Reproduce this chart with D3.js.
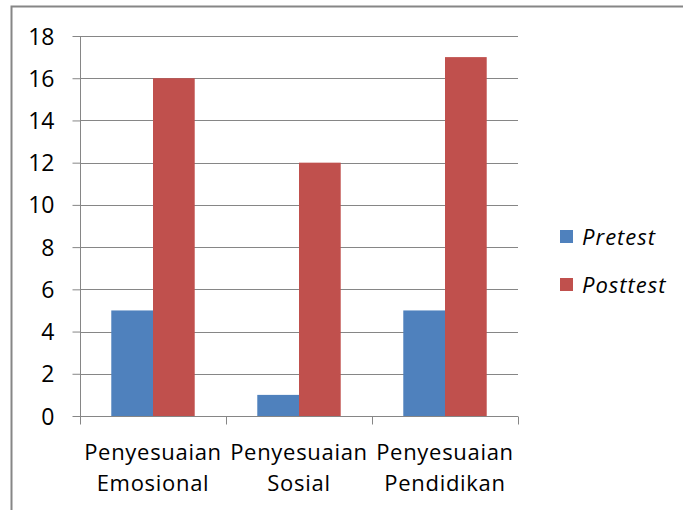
<!DOCTYPE html>
<html>
<head>
<meta charset="utf-8">
<script src="https://cdn.jsdelivr.net/npm/d3@7"></script>
<style>
  body { margin: 0; background: #fff; }
  text { font-family: "Open Sans", "Noto Sans", sans-serif; fill: #000; }
</style>
</head>
<body>
<script>
const categories = [["Penyesuaian", "Emosional"], ["Penyesuaian", "Sosial"], ["Penyesuaian", "Pendidikan"]];
const seriesNames = ["Pretest", "Posttest"];
const pretest = [5, 1, 5];
const posttest = [16, 12, 17];
const yTicks = [0, 2, 4, 6, 8, 10, 12, 14, 16, 18];
const colors = ["#4F81BD", "#C0504D"];

const W = 683, H = 510;
const svg = d3.select("body").append("svg").attr("width", W).attr("height", H);

// chart border
svg.append("rect")
    .attr("x", 11.5).attr("y", 6.5)
    .attr("width", 700).attr("height", 520)
    .attr("fill", "none").attr("stroke", "#868686").attr("stroke-width", 2);

const plotLeft = 80, plotRight = 518, plotTop = 36, plotBottom = 416;

const x = d3.scaleBand().domain(d3.range(categories.length)).range([plotLeft, plotRight]).paddingInner(0).paddingOuter(0);
const xs = d3.scaleBand().domain(seriesNames).range([0, x.bandwidth()]).paddingInner(0).paddingOuter(0.75);
const y = d3.scaleLinear().domain([0, 18]).range([plotBottom, plotTop]);

// gridlines
svg.append("g").selectAll("line").data(yTicks.slice(1)).enter().append("line")
    .attr("x1", plotLeft).attr("x2", plotRight)
    .attr("y1", d => Math.round(y(d)) + 0.5).attr("y2", d => Math.round(y(d)) + 0.5)
    .attr("stroke", "#868686").attr("stroke-width", 1);

// bars
const data = categories.map((c, i) => ({i, vals: [pretest[i], posttest[i]]}));
const groups = svg.append("g").selectAll("g").data(data).enter().append("g")
    .attr("transform", d => `translate(${x(d.i)},0)`);
groups.selectAll("rect").data(d => d.vals.map((v, k) => ({v, k}))).enter().append("rect")
    .attr("x", d => xs(seriesNames[d.k]))
    .attr("width", xs.bandwidth())
    .attr("y", d => y(d.v))
    .attr("height", d => y(0) - y(d.v))
    .attr("fill", d => colors[d.k]);

// y axis
const yAxis = svg.append("g").attr("transform", `translate(${plotLeft + 0.5},0)`)
    .call(d3.axisLeft(y).tickValues(yTicks).tickSize(8).tickPadding(18));
yAxis.select(".domain").attr("stroke", "#868686").attr("d", `M0,${plotTop}V${plotBottom + 8}`);
yAxis.selectAll(".tick line").attr("stroke", "#868686");
yAxis.selectAll(".tick text").style("font-size", "23px").attr("fill", "#000")
    .attr("dy", "0.35em");

// x axis
const xAxis = svg.append("g").attr("transform", `translate(0,${plotBottom + 0.5})`);
xAxis.append("line").attr("x1", plotLeft).attr("x2", plotRight).attr("stroke", "#868686");
xAxis.selectAll("line.tk").data(d3.range(categories.length + 1)).enter().append("line")
    .attr("class", "tk")
    .attr("x1", d => Math.round(d < categories.length ? x(d) : plotRight) + 0.5)
    .attr("x2", d => Math.round(d < categories.length ? x(d) : plotRight) + 0.5)
    .attr("y1", 0).attr("y2", 8).attr("stroke", "#868686");
const lbl = xAxis.selectAll("text").data(categories).enter().append("text")
    .attr("x", (d, i) => x(i) + x.bandwidth() / 2)
    .attr("text-anchor", "middle")
    .style("font-size", "22px")
    .style("letter-spacing", "0.7px");
lbl.append("tspan").attr("x", (d, i) => x(i) + x.bandwidth() / 2).attr("y", 43).text(d => d[0]);
lbl.append("tspan").attr("x", (d, i) => x(i) + x.bandwidth() / 2).attr("y", 74).text(d => d[1]);

// legend
const legend = svg.append("g").selectAll("g").data(seriesNames).enter().append("g")
    .attr("transform", (d, i) => `translate(560,${230 + i * 48})`);
legend.append("rect").attr("width", 13).attr("height", 13).attr("fill", (d, i) => colors[i]);
legend.append("text").attr("x", 22).attr("y", 15)
    .style("font-size", "22px").style("font-style", "italic")
    .style("letter-spacing", "1px").text(d => d);
</script>
</body>
</html>
